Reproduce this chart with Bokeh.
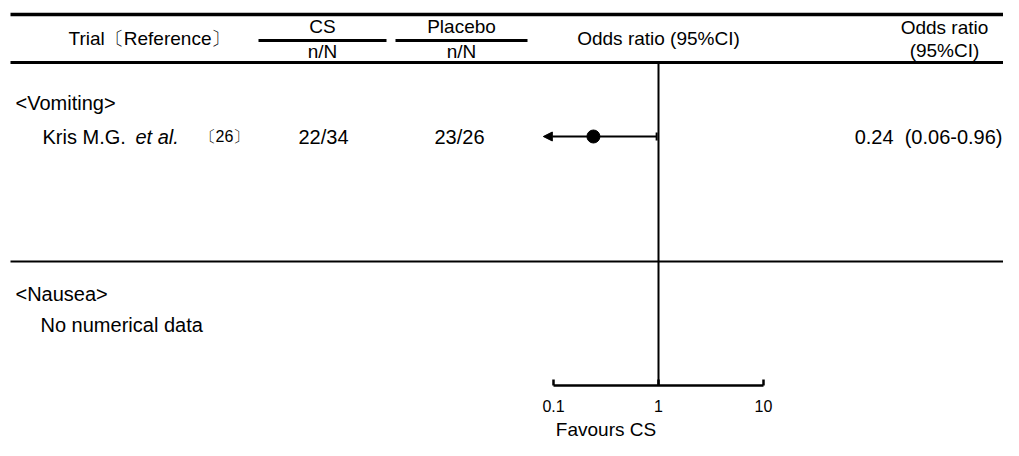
from bokeh.plotting import figure
from bokeh.models import Range1d, LogScale, Arrow, NormalHead, ColumnDataSource
from bokeh.core.properties import value
from bokeh.embed import file_html
from bokeh.resources import INLINE

# ---------------- data ----------------
section_labels = ["<Vomiting>", "<Nausea>"]
trials = ["Kris M.G."]
trial_suffix = ["et al."]
refs = ["〔26〕"]
cs_events = [22]
cs_total = [34]
pl_events = [23]
pl_total = [26]
odds_ratio = [0.24]
ci_low = [0.06]
ci_high = [0.96]
no_data_note = "No numerical data"
axis_ticks = [0.1, 1, 10]
axis_tick_labels = ["0.1", "1", "10"]
axis_title = "Favours CS"
display_min = 0.08

# ---------------- layout ----------------
FONT = "Liberation Sans"
FS = "19px"
FS_ROW = "20px"
W, H = 1003, 440
one_px = 658.0
px_per_decade = 105.0
log_lo = -(one_px - 0) / px_per_decade
log_hi = (W - one_px) / px_per_decade

p = figure(width=W, height=H,
           x_range=Range1d(0, W), y_range=Range1d(H, 0),
           x_axis_type=None, y_axis_type=None,
           toolbar_location=None, output_backend="svg",
           min_border=0, outline_line_color=None,
           background_fill_color="white", border_fill_color="white")
p.extra_x_ranges = {"or": Range1d(10 ** log_lo, 10 ** log_hi)}
p.extra_x_scales = {"or": LogScale()}


def txt(x, y, s, size=FS, align="center", style="normal", rn="default"):
    p.text(x=x if isinstance(x, list) else [x],
           y=y if isinstance(y, list) else [y],
           text=s if isinstance(s, list) else [s],
           text_font=value(FONT), text_font_size=value(size),
           text_align=align, text_baseline="middle",
           text_font_style=style, text_color="black",
           x_range_name=rn)


def hline(xa, xb, y, w):
    p.segment(x0=[xa], x1=[xb], y0=[y], y1=[y], line_color="black", line_width=w)


# header rules
hline(10, 1019, 14, 3.5)
hline(10, 1019, 62, 3)
hline(10, 1019, 261, 2)
hline(258, 386, 40, 3)
hline(395, 527, 40, 3)

# header texts
txt(149, 38, "Trial〔Reference〕")
txt(322, 26, "CS")
txt(322, 51, "n/N")
txt(461, 26, "Placebo")
txt(461, 51, "n/N")
txt(658, 38, "Odds ratio (95%CI)")
txt(944, 27, "Odds ratio")
txt(944, 50, "(95%CI)")

# sections
txt(15, 102, section_labels[0], size=FS_ROW, align="left")
txt(15, 293, section_labels[1], size=FS_ROW, align="left")
txt(40, 324, no_data_note, size=FS_ROW, align="left")

# trial rows
row_y = [136]
src = ColumnDataSource(dict(
    y=row_y,
    trial=trials,
    suffix=trial_suffix,
    ref=refs,
    cs=[f"{a}/{b}" for a, b in zip(cs_events, cs_total)],
    pl=[f"{a}/{b}" for a, b in zip(pl_events, pl_total)],
    orci=[f"{o:.2f}\u00a0\u00a0({l:.2f}-{h:.2f})" for o, l, h in zip(odds_ratio, ci_low, ci_high)],
    orv=odds_ratio,
    lo=[max(l, display_min) for l in ci_low],
    hi=ci_high,
))
common = dict(source=src, y="y", text_font=value(FONT), text_font_size=value(FS_ROW),
              text_baseline="middle", text_color="black")
p.text(x=42, text="trial", text_align="left", **common)
p.text(x=135, text="suffix", text_align="left", text_font_style="italic", **common)
p.text(x=224, y="y", text="ref", source=src, text_font=value(FONT), text_font_size=value("16px"),
       text_align="center", text_baseline="middle", text_color="black")
p.text(x=323, text="cs", text_align="center", **common)
p.text(x=459, text="pl", text_align="center", **common)
p.text(x=1002, text="orci", text_align="right", **common)

# reference line at OR = 1
p.segment(x0=[1], x1=[1], y0=[62], y1=[385], line_color="black", line_width=2, x_range_name="or")

# CI and point
for o, l, h, y in zip(src.data["orv"], src.data["lo"], src.data["hi"], row_y):
    p.add_layout(Arrow(end=NormalHead(size=9, fill_color="black", line_color="black"),
                       x_start=h, y_start=y, x_end=l, y_end=y,
                       line_color="black", line_width=2, x_range_name="or"))
p.segment(x0="hi", x1="hi", y0=row_y[0] - 4, y1=row_y[0] + 4, source=src,
          line_color="black", line_width=2, x_range_name="or")
p.scatter(x="orv", y="y", source=src, size=13, marker="circle",
          fill_color="black", line_color="black", x_range_name="or")

# bottom axis
axis_y = 385
p.segment(x0=[axis_ticks[0]], x1=[axis_ticks[-1]], y0=[axis_y], y1=[axis_y],
          line_color="black", line_width=2.5, x_range_name="or")
p.segment(x0=axis_ticks, x1=axis_ticks, y0=[axis_y - 6] * len(axis_ticks), y1=[axis_y] * len(axis_ticks),
          line_color="black", line_width=2.5, x_range_name="or")
txt(axis_ticks, [405] * len(axis_ticks), axis_tick_labels, size="16px", rn="or")
txt((axis_ticks[0] * axis_ticks[1]) ** 0.5, 429, axis_title, rn="or")

open("out.html", "w").write(file_html(p, INLINE))
